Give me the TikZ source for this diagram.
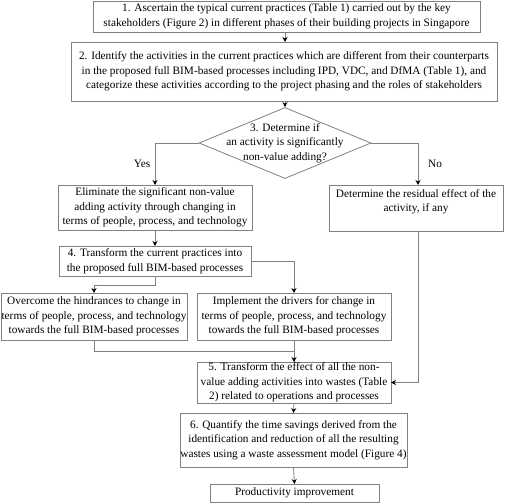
\documentclass[tikz,border=0pt]{standalone}
\usepackage{fontspec}
\setmainfont{Liberation Serif}
\usetikzlibrary{shapes.geometric,arrows.meta}
\begin{document}
\begin{tikzpicture}[x=1pt,y=-1pt,
  every node/.style={font=\fontsize{11.3}{14.5}\selectfont},
  box/.style={draw=black!50, line width=0.8pt, align=center, inner sep=0pt, outer sep=0pt},
  conn/.style={draw=black!50, line width=0.8pt},
  arr/.style={conn, -{Stealth[black, length=5pt, width=5pt]}},
  lbl/.style={inner sep=0pt}]
\useasboundingbox (0,0) rectangle (506,503);
\node[box, minimum width=387, minimum height=31] (b1) at (286.5,16.5)
  {1. Ascertain the typical current practices (Table 1) carried out by the key\\
   stakeholders (Figure 2) in different phases of their building projects in Singapore};
\node[box, minimum width=426, minimum height=59] (b2) at (284,71.5)
  {2. Identify the activities in the current practices which are different from their counterparts\\
   in the proposed full BIM-based processes including IPD, VDC, and DfMA (Table 1), and\\
   categorize these activities according to the project phasing and the roles of stakeholders};
\node[diamond, draw=black!50, line width=0.8pt, inner sep=0pt, minimum width=172, minimum height=71] (d) at (285,143) {};
\node[lbl, align=center] (dt) at (285,143) {3. Determine if\\ an activity is significantly\\ non-value adding?};
\node[box, minimum width=194, minimum height=45] (elim) at (155,207.5)
  {Eliminate the significant non-value\\ adding activity through changing in\\ terms of people, process, and technology};
\node[box, minimum width=174, minimum height=46] (res) at (416,208)
  {Determine the residual effect of the\\ activity, if any\\ \mbox{}};
\node[box, minimum width=192, minimum height=30] (b4) at (155,261)
  {4. Transform the current practices into\\ the proposed full BIM-based processes};
\node[box, minimum width=186, minimum height=47] (over) at (94,316.5)
  {Overcome the hindrances to change in\\ terms of people, process, and technology\\ towards the full BIM-based processes};
\node[box, minimum width=194, minimum height=47] (impl) at (294,316.5)
  {Implement the drivers for change in\\ terms of people, process, and technology\\ towards the full BIM-based processes};
\node[box, minimum width=194, minimum height=41] (b5) at (294,382.5)
  {5. Transform the effect of all the non-\\ value adding activities into wastes (Table\\ 2) related to operations and processes};
\node[box, minimum width=227, minimum height=54] (b6) at (293.5,440)
  {6. Quantify the time savings derived from the\\ identification and reduction of all the resulting\\ wastes using a waste assessment model (Figure 4)};
\node[box, minimum width=169, minimum height=18] (b7) at (294.5,493)
  {Productivity improvement};
\node[lbl] (yes) at (142,164) {Yes};
\node[lbl] (no) at (435,164) {No};
\coordinate (k1) at (155,285);
\coordinate (k2) at (94,351);
\draw[arr] (d.north |- b1.south) -- (d.north |- b2.north);
\draw[arr] (d.north |- b2.south) -- (d.north);
\draw[arr] (d.west) -| (elim.north);
\draw[arr] (d.east) -| (418,0 |- res.north);
\draw[arr] (elim.south) -- (b4.north);
\draw[arr] (b4.south) -- (k1) -| (over.north);
\draw[arr] (b4.east) -| (impl.north);
\draw[conn] (over.south) -- (k2) -| (b5.north);
\draw[arr] (impl.south) -- (b5.north);
\draw[arr] (res.south -| 418,0) -- (418,0 |- b5.east) -- (b5.east);
\draw[arr] (b5.south) -- (b6.north);
\draw[arr] (b6.south) -- (b7.north);
\end{tikzpicture}
\end{document}
